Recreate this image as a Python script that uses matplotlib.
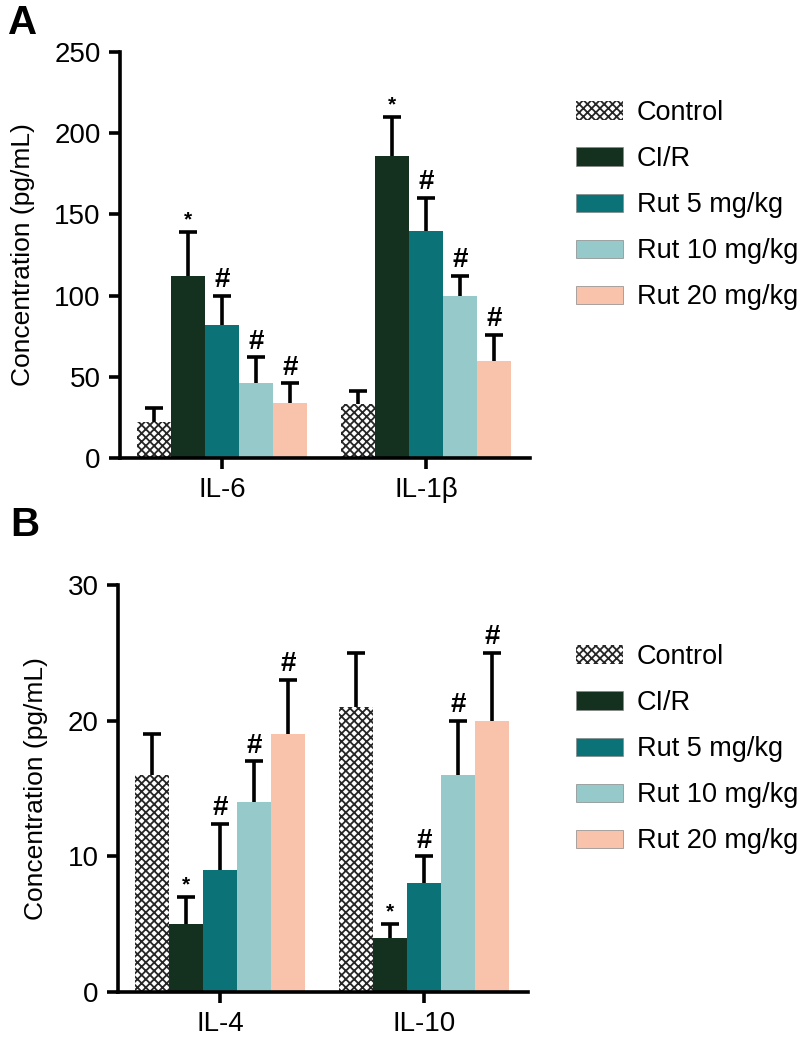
import numpy as np
import matplotlib
matplotlib.use("Agg")
import matplotlib.pyplot as plt
from matplotlib.patches import Patch

plt.rcParams['font.family'] = ['Liberation Sans', 'DejaVu Sans']
plt.rcParams['hatch.linewidth'] = 1.3

# Groups and treatment labels
groups = ["Control", "CI/R", "Rut 5 mg/kg", "Rut 10 mg/kg", "Rut 20 mg/kg"]
colors = ["white", "#14301f", "#0b7378", "#95c9ca", "#f8c3aa"]

# Panel A: pro-inflammatory cytokines
cyto_a = ["IL-6", "IL-1\u03b2"]
mean_a = [[22, 33], [112, 186], [82, 140], [46, 100], [34, 60]]
err_a = [[9, 8], [27, 24], [18, 20], [16, 12], [12, 16]]
marks_a = ["", "*", "#", "#", "#"]

# Panel B: anti-inflammatory cytokines
cyto_b = ["IL-4", "IL-10"]
mean_b = [[16, 21], [5, 4], [9, 8], [14, 16], [19, 20]]
err_b = [[3, 4], [2, 1], [3.4, 2], [3, 4], [4, 5]]
marks_b = ["", "*", "#", "#", "#"]

W, H = 804, 1043
fig = plt.figure(figsize=(W / 100, H / 100), dpi=100)

HATCH = "xxxx"
HATCH_COL = "#262626"


def draw_panel(ax, cytos, means, errs, marks, ymax, yticks):
    x = np.arange(len(cytos))
    width = 1 / 6
    for i, name in enumerate(groups):
        pos = x + (i - 2) * width
        if i == 0:
            ax.bar(pos, means[i], width, color="white", edgecolor=HATCH_COL,
                   hatch=HATCH, linewidth=0, zorder=2)
        else:
            ax.bar(pos, means[i], width, color=colors[i], linewidth=0, zorder=2)
        eb = ax.errorbar(pos, means[i], yerr=[np.zeros(len(cytos)), errs[i]],
                         fmt="none", ecolor="black", elinewidth=2.6,
                         capsize=6.5, capthick=2.6, zorder=3)
        # only keep the upper cap (T shape)
        eb[1][0].set_visible(False)
        if marks[i]:
            for p, m, e in zip(pos, means[i], errs[i]):
                fs = 15 if marks[i] == "*" else 20
                ax.annotate(marks[i], (p, m + e), xytext=(0, 2),
                            textcoords="offset points", ha="center",
                            va="bottom", fontsize=fs, fontweight="bold")
    ax.set_xlim(-0.5, 1.51)
    ax.set_ylim(0, ymax)
    ax.set_yticks(yticks)
    ax.set_xticks(x)
    ax.set_xticklabels(cytos)
    for s in ["top", "right"]:
        ax.spines[s].set_visible(False)
    for s in ["left", "bottom"]:
        ax.spines[s].set_linewidth(2.6)
    ax.tick_params(axis="both", width=2.6, length=8, labelsize=20, pad=6)
    ax.set_ylabel("Concentration (pg/mL)", fontsize=19, labelpad=14)


ax_a = fig.add_axes([120 / W, 1 - 458 / H, 410 / W, 406 / H])
draw_panel(ax_a, cyto_a, mean_a, err_a, marks_a, 250, [0, 50, 100, 150, 200, 250])

ax_b = fig.add_axes([118 / W, 1 - 992 / H, 410 / W, 407 / H])
draw_panel(ax_b, cyto_b, mean_b, err_b, marks_b, 30, [0, 10, 20, 30])

handles = []
for i, name in enumerate(groups):
    if i == 0:
        handles.append(Patch(facecolor="white", edgecolor=HATCH_COL, hatch=HATCH,
                             linewidth=0, label=name))
    else:
        handles.append(Patch(facecolor=colors[i], edgecolor="#888888",
                             linewidth=0.5, label=name))

for top in [100, 644]:
    fig.legend(handles=handles, loc="upper left",
               bbox_to_anchor=(576 / W, 1 - top / H), bbox_transform=fig.transFigure,
               frameon=False, fontsize=19.5, borderpad=0, borderaxespad=0,
               handlelength=1.75, handleheight=0.65, labelspacing=0.74,
               handletextpad=0.5)

fig.text(8 / W, 1 - 4 / H, "A", fontsize=29, fontweight="bold", va="top", ha="left")
fig.text(10 / W, 1 - 506 / H, "B", fontsize=29, fontweight="bold", va="top", ha="left")

fig.savefig("out.png", dpi=100)
